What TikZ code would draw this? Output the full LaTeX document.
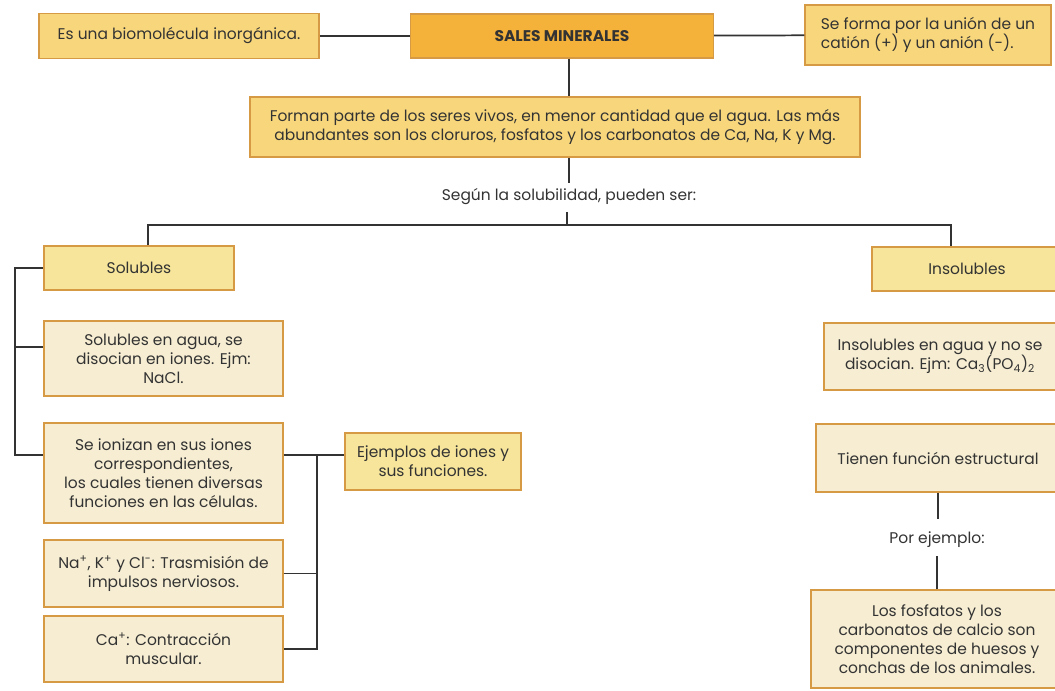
\documentclass[tikz,border=0pt]{standalone}
\usepackage{fontspec}
\setmainfont{Poppins}
\usetikzlibrary{calc}
\definecolor{borde}{HTML}{D69A45}
\definecolor{naranja}{HTML}{F5B23A}
\definecolor{amarillo}{HTML}{F8D77C}
\definecolor{claro}{HTML}{F6E59A}
\definecolor{crema}{HTML}{F6EDD2}
\definecolor{texto}{HTML}{333333}
\newcommand{\pix}[1]{#1*0.75pt}
\begin{document}
\begin{tikzpicture}[x=0.75pt, y=-0.75pt,
  caja/.style = {draw=borde, line width=1.1pt, align=center, inner sep=2pt, text=texto, font=\fontsize{11.6}{14.2}\selectfont},
  linea/.style = {draw=black!80, line width=1.3pt}]
  \useasboundingbox (0,0) rectangle (1055,691);
  \node[caja, fill=amarillo, minimum width=\pix{280}, minimum height=\pix{45}] (bio) at (179,36) {Es una biomolécula inorgánica.};
  \node[caja, fill=naranja, minimum width=\pix{303}, minimum height=\pix{44}] (sales) at (562,36) {\textbf{SALES MINERALES}};
  \node[caja, fill=amarillo, minimum width=\pix{246}, minimum height=\pix{60}, align=left] (union) at (928,35) {Se forma por la unión de un \\ catión (+) y un anión (-).};
  \node[caja, fill=amarillo, minimum width=\pix{610}, minimum height=\pix{60}] (forman) at (555,127) {Forman parte de los seres vivos, en menor cantidad que el agua. Las más \\ abundantes son los cloruros, fosfatos y los carbonatos de Ca, Na, K y Mg.};
  \node[text=texto, font=\fontsize{11.6}{14}\selectfont] (segun) at (569,197) {Según la solubilidad, pueden ser:};
  \coordinate (bus) at (567,225);
  % solubles
  \node[caja, fill=claro, minimum width=\pix{190}, minimum height=\pix{44}] (sol) at (139,268) {Solubles};
  \node[caja, fill=crema, minimum width=\pix{239}, minimum height=\pix{75}] (agua) at (163.5,358.5) {Solubles en agua, se \\ disocian en iones. Ejm: \\ NaCl.};
  \node[caja, fill=crema, minimum width=\pix{239}, minimum height=\pix{100}] (ioniz) at (163.5,473) {Se ionizan en sus iones \\ correspondientes, \\ los cuales tienen diversas \\ funciones en las células.};
  \node[caja, fill=crema, minimum width=\pix{239}, minimum height=\pix{67}] (nak) at (163.5,573.5) {Na\textsuperscript{+}, K\textsuperscript{+} y Cl\textsuperscript{-}: Trasmisión de \\ impulsos nerviosos.};
  \node[caja, fill=crema, minimum width=\pix{239}, minimum height=\pix{66}] (ca) at (163.5,649) {Ca\textsuperscript{+}: Contracción \\ muscular.};
  \node[caja, fill=claro, minimum width=\pix{176}, minimum height=\pix{57}] (ejem) at (433,461.5) {Ejemplos de iones y \\ sus funciones.};
  % insolubles
  \node[caja, fill=claro, minimum width=\pix{190}, minimum height=\pix{44}] (insol) at (967,269) {Insolubles};
  \node[caja, fill=crema, minimum width=\pix{232}, minimum height=\pix{67}] (insagua) at (940,356.5) {Insolubles en agua y no se \\ disocian. Ejm: Ca\textsubscript{3}(PO\textsubscript{4})\textsubscript{2}};
  \node[caja, fill=crema, minimum width=\pix{244}, minimum height=\pix{68}] (tienen) at (938,458) {Tienen función estructural};
  \node[text=texto, font=\fontsize{11.6}{14}\selectfont] (porej) at (937,540) {Por ejemplo:};
  \node[caja, fill=crema, minimum width=\pix{252}, minimum height=\pix{98}] (fosf) at (937,639) {Los fosfatos y los \\ carbonatos de calcio son \\ componentes de huesos y \\ conchas de los animales.};
  % uniones
  \coordinate (izq) at (15,347);
  \coordinate (nudo) at (317,455);
  % conectores
  \draw[linea] (bio) -- (sales);
  \draw[linea] (sales) -- (union);
  \draw[linea] ([xshift=5]sales.south) -- ([xshift=5]sales.south |- forman.north);
  \draw[linea] ([xshift=5]forman.south -| sales.south) -- ++(0,25);
  \draw[linea] (segun.south -| bus) ++(0,2) -- (bus);
  \draw[linea] ([xshift=7]sol.north) |- (bus) -| ([xshift=-12]insol.north);
  \draw[linea] (sol.west) -| (izq) |- (ioniz.west |- nudo);
  \draw[linea] (izq) -- (izq -| agua.west);
  \draw[linea] (ioniz.east |- nudo) -- (ejem.west |- nudo);
  \draw[linea] (nudo) |- (ca.east);
  \draw[linea] (nak.east) -- (nak.east -| nudo);
  \draw[linea] (tienen.south) -- ++(0,26);
  \draw[linea] (fosf.north) -- ++(0,-33);
\end{tikzpicture}
\end{document}
